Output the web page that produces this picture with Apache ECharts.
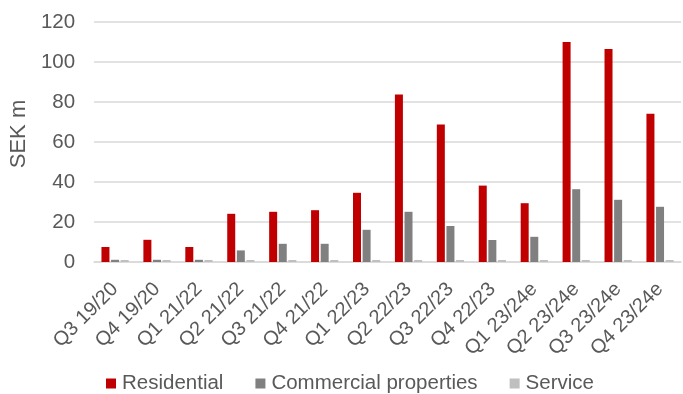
<!DOCTYPE html>
<html><head><meta charset="utf-8">
<script src="https://cdn.jsdelivr.net/npm/echarts@6/dist/echarts.min.js"></script>
<style>html,body{margin:0;padding:0;background:#fff}#c{width:683px;height:394px}</style>
</head><body><div id="c"></div>
<script>
var categories = ['Q3 19/20','Q4 19/20','Q1 21/22','Q2 21/22','Q3 21/22','Q4 21/22','Q1 22/23','Q2 22/23','Q3 22/23','Q4 22/23','Q1 23/24e','Q2 23/24e','Q3 23/24e','Q4 23/24e'];
var residential = [7.5, 11.1, 7.5, 24.1, 25.1, 25.9, 34.6, 83.8, 68.8, 38.2, 29.4, 110.0, 106.5, 74.1];
var commercial = [1.1, 1.1, 1.1, 5.8, 9.1, 9.1, 16.1, 25.1, 18.0, 11.0, 12.6, 36.4, 31.1, 27.6];
var service = [1, 1, 1, 1, 1, 1, 1, 1, 1, 1, 1, 1, 1, 1];
var yTicks = [0, 20, 40, 60, 80, 100, 120];

var chart = echarts.init(document.getElementById('c'));
var font = 'Liberation Sans, Arial, sans-serif';
chart.setOption({
  animation: false,
  textStyle: {fontFamily: font},
  grid: {left: 88, right: 2, top: 22, bottom: 132, containLabel: false},
  legend: {
    left: 106, top: 373, padding: 0, itemWidth: 10, itemHeight: 10, itemGap: 32,
    icon: 'rect',
    textStyle: {fontFamily: font, fontSize: 20.5, color: '#595959', padding: [0,0,0,1]},
    data: ['Residential','Commercial properties','Service']
  },
  xAxis: {
    type: 'category', data: categories,
    axisLine: {lineStyle: {color: '#D9D9D9', width: 1.5}},
    axisTick: {show: false},
    axisLabel: {rotate: 45, fontSize: 20, color: '#595959', margin: 24, interval: 0, fontFamily: font}
  },
  yAxis: {
    type: 'value', min: yTicks[0], max: yTicks[yTicks.length-1], interval: 20,
    name: 'SEK m', nameLocation: 'middle', nameGap: 58,
    nameTextStyle: {fontSize: 22, color: '#595959', fontFamily: font, padding: [0,0,0,16]},
    axisLabel: {fontSize: 20.5, color: '#595959', margin: 19, fontFamily: font},
    splitLine: {lineStyle: {color: '#D9D9D9', width: 1.5}},
    axisLine: {show: false}, axisTick: {show: false}
  },
  series: [
    {name: 'Residential', type: 'bar', data: residential, barWidth: 8, barGap: '20%', itemStyle: {color: '#C00000'}},
    {name: 'Commercial properties', type: 'bar', data: commercial, barWidth: 8, barGap: '20%', itemStyle: {color: '#808080'}},
    {name: 'Service', type: 'bar', data: service, barWidth: 8, barGap: '20%', itemStyle: {color: '#BFBFBF'}}
  ]
});
</script></body></html>
